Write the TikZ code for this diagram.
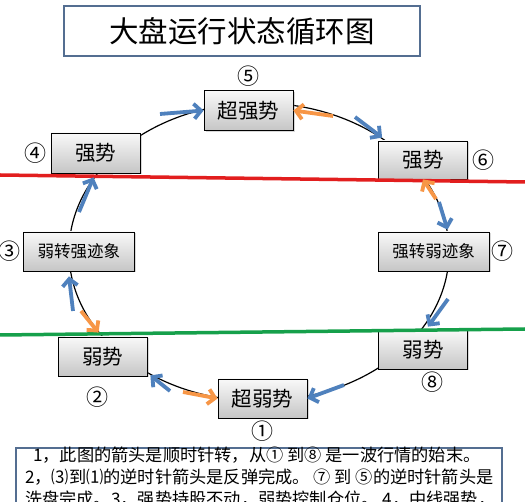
\documentclass[tikz,border=0pt]{standalone}
\usepackage{fontspec}
\setmainfont{Noto Sans CJK SC}
\usetikzlibrary{arrows.meta,positioning,calc,shadows}
\definecolor{arrblue}{RGB}{79,129,189}
\definecolor{arrorange}{RGB}{247,150,70}
\definecolor{frameblue}{RGB}{84,110,145}
\definecolor{linered}{RGB}{226,30,30}
\definecolor{linegreen}{RGB}{22,160,75}

\begin{document}
\begin{tikzpicture}[
  x=1pt, y=-1pt,
  every node/.style={inner sep=0pt},
  state/.style={draw=black, line width=0.8pt, top color=gray!5, bottom color=gray!45,
    drop shadow={shadow xshift=1.5pt, shadow yshift=-1.5pt, opacity=0.3},
    minimum width=89pt, minimum height=40pt, font=\fontsize{20.5}{22}\selectfont},
  widestate/.style={state, minimum width=111pt, minimum height=39pt, font=\fontsize{16.5}{18}\selectfont},
  numlabel/.style={font=\fontsize{22}{23}\selectfont},
  notetext/.style={anchor=west, font=\fontsize{17.2}{18}\selectfont},
  bluearr/.style={draw=arrblue, line width=3.8pt, -{Straight Barb[length=7pt,width=15pt]}},
  orangearr/.style={bluearr, draw=arrorange},
  divider/.style={line width=3.5pt},
]
\useasboundingbox (0,0) rectangle (525,502);
\fill[white] (0,0) rectangle (525,502);
\node[draw=frameblue, line width=1.8pt, minimum width=356pt, minimum height=50pt,
  font=\fontsize{29.5}{31}\selectfont] (title) at (242,31) {大盘运行状态循环图};
\draw[line width=1.2pt] (259,252) ellipse [x radius=190, y radius=149];
\node[state] (n5) at (248.5,110.5) {超强势};
\node[state] (n4) at (95.5,153) {强势};
\node[state, minimum height=38pt] (n6) at (423,160) {强势};
\node[widestate] (n3) at (79,251.5) {弱转强迹象};
\node[widestate] (n7) at (433.5,251.5) {强转弱迹象};
\node[state, minimum height=39pt] (n2) at (102.5,356.5) {弱势};
\node[state, minimum height=39pt] (n1) at (262.5,398.5) {超弱势};
\node[state, minimum height=39pt] (n8) at (423,349.5) {弱势};
\node[numlabel, above=4pt of n5] (l5) {⑤};
\node[numlabel, left=4pt of n4] (l4) {④};
\node[numlabel, right=4pt of n6] (l6) {⑥};
\node[numlabel, left=2pt of n3] (l3) {③};
\node[numlabel, right=2pt of n7] (l7) {⑦};
\node[numlabel, below=10pt of n2, xshift=-5pt] (l2) {②};
\node[numlabel, below=2pt of n1] (l1) {①};
\node[numlabel, below=2pt of n8, xshift=9pt] (l8) {⑧};
\draw[divider, linered] (0,175) -- (525,182);
\draw[divider, linegreen] (0,335) -- (525,329);
\coordinate (t1) at (160,114);
\coordinate (t2) at (333,116);
\coordinate (t3) at (355,117);
\coordinate (t4) at (79,212);
\coordinate (t5) at (436,199);
\coordinate (t6) at (439,202);
\coordinate (t7) at (73,311);
\coordinate (t8) at (81,311);
\coordinate (t9) at (448,299);
\coordinate (t10) at (170,391);
\coordinate (t11) at (183,392);
\coordinate (t12) at (344,385);
\draw[bluearr] (t1) -- (n5.west);
\draw[orangearr] (t2) -- (n5.east);
\draw[bluearr] (t3) -- ($(n6.north west)+(4,-3)$);
\draw[bluearr] (t4) -- ($(n4.south)+(-2,4)$);
\draw[orangearr] (t5) -- (n6.south);
\draw[bluearr] (t6) -- ($(n7.north)+(14,-2)$);
\draw[bluearr] (t7) -- ($(n3.south)+(-10,5)$);
\draw[orangearr] (t8) -- ($(n2.north)+(-4,-4)$);
\draw[bluearr] (t9) -- ($(n8.north)+(5,-3)$);
\draw[bluearr] (t10) -- ($(n2.south east)+(3,-1)$);
\draw[orangearr] (t11) -- (n1.west);
\draw[bluearr] (t12) -- (n1.east);
\draw[frameblue, line width=1.8pt] (16,448) rectangle (502,540);
\node[notetext] (note1) at (33,455) {1，此图的箭头是顺时针转，从① 到⑧ 是一波行情的始末。};
\node[notetext] (note2) at (25,477) {2，⑶到⑴的逆时针箭头是反弹完成。 ⑦ 到 ⑤的逆时针箭头是};
\node[notetext] (note3) at (25,499) {洗盘完成。3，强势持股不动，弱势控制仓位。 4，中线强势，};
\end{tikzpicture}
\end{document}
